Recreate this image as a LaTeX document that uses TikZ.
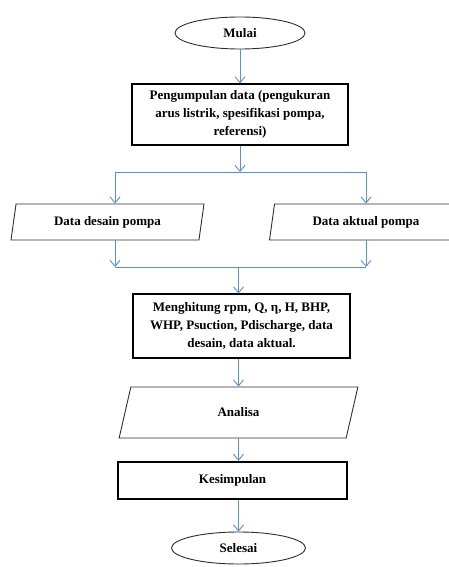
\documentclass[tikz,border=0pt]{standalone}
\usepackage{fontspec}
\setmainfont{Liberation Serif}
\usetikzlibrary{shapes.geometric, arrows.meta, positioning}
\definecolor{flowblue}{HTML}{5B8FD0}
\definecolor{edgegray}{HTML}{2E2E2E}

\begin{document}
\begin{tikzpicture}[
		x=1pt, y=-1pt,
		font=\fontsize{13}{17.8}\selectfont\bfseries,
		terminal/.style={draw=edgegray, line width=0.9pt, ellipse, inner sep=0pt,
			minimum width=130pt, minimum height=32pt},
		proses/.style={draw=black, line width=1.1pt, rectangle, inner sep=2pt, align=center},
		dataio/.style={draw=edgegray, line width=0.9pt, trapezium, trapezium left angle=76,
			trapezium right angle=104, trapezium stretches=true, inner sep=0pt,
			minimum width=193pt, minimum height=36pt},
		flow/.style={-{Straight Barb[length=6pt, width=10pt]}, flowblue, line width=0.9pt},
		link/.style={flowblue, line width=0.9pt}
		]
		\useasboundingbox (0,0) rectangle (449,567);

		\node[terminal] (mulai) at (240,33) {Mulai};
		\node[proses, minimum width=216pt, minimum height=61pt] (kumpul) at (240,114.5)
		{Pengumpulan data (pengukuran\\ arus listrik, spesifikasi pompa,\\ referensi)};

		\coordinate (j1) at (240,172);
		\coordinate (j1l) at (115,172);
		\coordinate (j1r) at (366,172);

		\node[dataio] (desain) at (107.5,222) {Data desain pompa};
		\node[dataio] (aktual) at (366,222) {Data aktual pompa};

		\coordinate (j2) at (238.5,267);
		\coordinate (j2l) at (115,267);
		\coordinate (j2r) at (366,267);

		\node[proses, minimum width=217pt, minimum height=64pt] (hitung) at (241.5,326)
		{Menghitung rpm, Q, η, H, BHP,\\ WHP, Psuction, Pdischarge, data\\ desain, data aktual.};
		\node[dataio, minimum width=239pt, minimum height=51pt] (analisa) at (238.5,412.5) {Analisa};
		\node[proses, line width=2.2pt, minimum width=229pt, minimum height=37pt] (simpul) at (232.5,480.5) {Kesimpulan};
		\node[terminal, minimum width=134pt] (selesai) at (238.5,548) {Selesai};

		% cabang data
		\draw[flow] (mulai) -- (kumpul);
		\draw[flow] (kumpul) -- (j1);
		\draw[link] (j1l) -- (j1r);
		\draw[flow] (j1l) -- (j1l |- desain.north);
		\draw[flow] (j1r) -- (j1r |- aktual.north);
		\draw[flow] (desain.south -| j2l) -- (j2l);
		\draw[flow] (aktual.south -| j2r) -- (j2r);
		\draw[link] (j2l) -- (j2r);

		% alur utama
		\draw[flow] (j2) -- (j2 |- hitung.north);
		\foreach \a/\b in {hitung/analisa, analisa/simpul, simpul/selesai} {
			\draw[flow] (\a.south -| j2) -- (j2 |- \b.north);
		}
	\end{tikzpicture}
\end{document}
